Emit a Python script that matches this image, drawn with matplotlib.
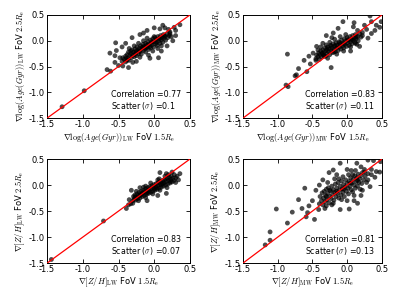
import numpy as np
import matplotlib
matplotlib.use('Agg')
import matplotlib.pyplot as plt

plt.rcParams['mathtext.fontset'] = 'cm'
plt.rcParams['axes.unicode_minus'] = False
plt.rcParams['font.family'] = 'DejaVu Sans'

# ---- data: (FoV 1.5Re, FoV 2.5Re) gradients ----
age_lw = np.array( [
    (-1.29,-1.28),(-0.98,-0.97),(-0.66,-0.56),(-0.61,-0.59),(-0.55,-0.42),(-0.54,-0.04),
    (-0.53,-0.19),(-0.44,-0.49),(-0.31,0.06),(-0.62,-0.24),(-0.55,-0.29),(-0.50,-0.48),
    (-0.36,-0.52),(0.36,0.31),(0.22,0.14),(0.24,0.08),(0.20,0.22),(0.08,0.23),(-0.06,-0.34),
    (0.06,-0.33),(-0.08,-0.28),(0.30,0.20),(0.15,0.25),(-0.45,-0.12),(-0.40,-0.05),
    (-0.20,0.12),(-0.15,0.15),(0.10,-0.20),(0.18,-0.10),(0.26,0.00),(0.30,0.10),
    (-0.48,-0.33),(-0.38,-0.38),(-0.25,-0.40),(0.12,0.30),(0.00,0.25),(-0.10,0.20),(0.28,0.26),
    (-0.45,-0.40),(-0.44,-0.33),(-0.42,-0.36),(-0.40,-0.30),(-0.40,-0.41),(-0.38,-0.27),
    (-0.37,-0.34),(-0.36,-0.22),(-0.35,-0.38),(-0.34,-0.29),(-0.33,-0.25),(-0.32,-0.33),
    (-0.31,-0.18),(-0.30,-0.28),(-0.29,-0.22),(-0.28,-0.31),(-0.27,-0.16),(-0.26,-0.24),
    (-0.25,-0.20),(-0.25,-0.29),(-0.24,-0.12),(-0.23,-0.19),(-0.22,-0.25),(-0.21,-0.15),
    (-0.20,-0.21),(-0.19,-0.10),(-0.18,-0.17),(-0.18,-0.26),(-0.17,-0.13),(-0.16,-0.07),
    (-0.15,-0.19),(-0.14,-0.11),(-0.13,-0.15),(-0.12,-0.05),(-0.12,-0.22),(-0.11,-0.09),
    (-0.10,-0.13),(-0.09,-0.02),(-0.08,-0.17),(-0.07,-0.07),(-0.06,-0.11),(-0.05,0.01),
    (-0.05,-0.14),(-0.04,-0.04),(-0.03,-0.08),(-0.02,0.04),(-0.01,-0.12),(0.00,-0.02),
    (0.01,0.06),(0.02,-0.06),(0.03,0.02),(0.04,-0.09),(0.05,0.08),(0.06,-0.01),(0.07,0.04),
    (0.08,-0.05),(0.09,0.10),(0.10,0.02),(0.11,0.06),(0.12,-0.03),(0.13,0.12),(0.14,0.05),
    (0.15,0.09),(0.16,0.01),(0.18,0.13),(0.19,0.06),(0.21,0.10),(0.22,0.17),(-0.28,-0.10),
    (-0.22,-0.05),(-0.15,0.00),(-0.10,0.05),(-0.35,-0.15),(-0.02,-0.20),(0.05,-0.15),
    (0.10,-0.10),(-0.20,-0.32),(-0.30,-0.42),
    (-0.33,-0.20),(-0.27,-0.26),(-0.21,-0.20),(-0.16,-0.13),(-0.09,-0.08),(-0.03,-0.02),
    (0.03,-0.03),(0.08,0.05),(0.14,0.09),(-0.39,-0.34),(-0.12,-0.14),(0.00,0.08) ] )

age_mw = np.array( [
    (-0.86,-0.26),(-0.88,-0.86),(-0.85,-0.89),(-0.75,-0.68),(-0.73,-0.66),(-0.70,-0.54),
    (-0.58,-0.60),(-0.53,-0.45),(-0.44,-0.11),(-0.49,-0.24),(-0.23,-0.52),(-0.13,0.24),
    (-0.06,0.37),(0.09,0.27),(0.33,0.48),(0.35,0.37),(0.47,0.26),(0.49,0.37),(0.42,0.30),
    (0.18,-0.11),(0.35,0.14),(0.25,0.30),(-0.30,0.10),(-0.55,-0.30),(-0.62,-0.38),
    (-0.45,-0.38),(0.22,0.10),(0.28,0.22),(0.15,0.20),(-0.20,0.15),(0.05,-0.20),
    (0.12,-0.05),(0.30,0.05),(-0.35,-0.05),(0.40,0.20),(0.10,0.35),
    (-0.45,-0.35),(-0.44,-0.28),(-0.42,-0.31),(-0.41,-0.24),(-0.40,-0.36),(-0.39,-0.27),
    (-0.38,-0.20),(-0.37,-0.31),(-0.36,-0.24),(-0.35,-0.18),(-0.34,-0.28),(-0.33,-0.22),
    (-0.32,-0.14),(-0.31,-0.30),(-0.30,-0.19),(-0.29,-0.25),(-0.28,-0.12),(-0.27,-0.21),
    (-0.26,-0.16),(-0.25,-0.27),(-0.24,-0.09),(-0.23,-0.19),(-0.22,-0.14),(-0.21,-0.23),
    (-0.20,-0.06),(-0.19,-0.17),(-0.18,-0.11),(-0.17,-0.21),(-0.16,-0.04),(-0.15,-0.14),
    (-0.14,-0.09),(-0.13,-0.19),(-0.12,-0.02),(-0.11,-0.12),(-0.10,-0.07),(-0.09,-0.16),
    (-0.08,0.01),(-0.07,-0.10),(-0.06,-0.04),(-0.05,-0.14),(-0.04,0.04),(-0.03,-0.07),
    (-0.02,-0.01),(-0.01,-0.11),(0.00,0.06),(0.01,-0.04),(0.02,0.01),(0.03,-0.09),
    (0.04,0.08),(0.05,-0.02),(0.06,0.03),(0.07,-0.06),(0.08,0.10),(0.09,0.01),(0.10,0.05),
    (0.11,-0.03),(0.12,0.12),(0.13,0.04),(0.15,0.08),(0.16,0.00),(0.18,0.14),(0.20,0.07),
    (-0.30,-0.08),(-0.25,-0.03),(-0.18,0.03),(-0.10,0.08),(-0.02,0.12),(-0.38,-0.12),
    (-0.28,-0.34),(-0.15,-0.26),(-0.05,-0.20),(0.05,-0.12),(0.14,-0.07),(-0.42,-0.18),
    (-0.22,0.06),
    (-0.35,-0.25),(-0.29,-0.16),(-0.23,-0.10),(-0.17,-0.09),(-0.11,-0.04),(-0.05,-0.06),
    (0.01,0.02),(0.07,0.02),(0.13,0.08),(-0.33,-0.30),(-0.19,-0.22),(0.22,0.16) ] )

zh_lw = np.array( [
    (-1.44,-1.43),(-0.71,-0.69),(-0.39,-0.45),(-0.36,-0.38),(-0.33,-0.36),(-0.32,-0.10),
    (0.36,0.22),(0.34,0.10),(0.17,0.22),(0.08,0.24),(0.17,-0.16),(0.30,0.05),(0.25,0.25),
    (-0.20,-0.05),(0.05,-0.20),(-0.10,-0.30),(0.28,0.20),(0.32,0.17),
    (-0.30,-0.30),(-0.29,-0.22),(-0.28,-0.27),(-0.27,-0.19),(-0.26,-0.29),(-0.25,-0.24),
    (-0.24,-0.17),(-0.23,-0.26),(-0.22,-0.20),(-0.21,-0.14),(-0.20,-0.25),(-0.19,-0.18),
    (-0.18,-0.12),(-0.17,-0.22),(-0.16,-0.15),(-0.15,-0.10),(-0.14,-0.20),(-0.13,-0.13),
    (-0.12,-0.07),(-0.11,-0.18),(-0.10,-0.11),(-0.09,-0.05),(-0.08,-0.16),(-0.07,-0.09),
    (-0.06,-0.03),(-0.05,-0.14),(-0.04,-0.07),(-0.03,-0.01),(-0.02,-0.12),(-0.01,-0.05),
    (0.00,0.01),(0.01,-0.10),(0.02,-0.03),(0.03,0.03),(0.04,-0.08),(0.05,-0.01),(0.06,0.05),
    (0.07,-0.06),(0.08,0.01),(0.09,0.07),(0.10,-0.04),(0.11,0.03),(0.12,0.09),(0.13,-0.02),
    (0.14,0.05),(0.15,0.11),(0.16,0.00),(0.17,0.07),(0.18,0.13),(0.19,0.02),(0.20,0.09),
    (0.21,0.15),(0.22,0.04),(0.23,0.11),(0.24,0.17),(0.25,0.06),(0.26,0.13),(0.28,0.09),
    (0.30,0.14),(-0.22,-0.30),(-0.12,-0.24),(-0.02,-0.17),(0.08,-0.10),(0.18,-0.05),
    (-0.25,-0.12),(-0.15,-0.04),(-0.05,0.04),(0.05,0.10),(0.15,0.17),(-0.35,-0.28),
    (0.00,-0.08),(0.10,0.00),(-0.10,-0.15),(-0.20,-0.20),
    (-0.27,-0.23),(-0.17,-0.17),(-0.07,-0.12),(0.03,-0.05),(0.13,0.03),(0.23,0.07),
    (-0.12,-0.02),(0.07,0.12),(0.20,0.20),(-0.30,-0.35) ] )

zh_mw = np.array( [
    (-1.18,-1.15),(-1.11,-1.06),(-1.11,-0.90),(-1.02,-0.46),(-0.86,-0.73),(-0.79,-0.52),
    (-0.70,-0.28),(-0.61,-0.06),(-0.59,-0.61),(-0.57,-0.53),(-0.47,-0.66),(-0.41,-0.47),
    (-0.10,-0.47),(0.03,-0.46),(-0.26,0.24),(-0.20,0.29),(-0.10,0.42),(-0.06,0.16),
    (0.06,0.28),(0.14,0.42),(0.30,0.48),(0.38,0.47),(0.48,0.45),(0.42,0.26),(0.47,0.25),
    (0.33,-0.03),(0.25,0.30),(0.20,0.35),(-0.35,0.10),(-0.45,-0.10),(-0.50,-0.30),
    (-0.30,-0.40),(-0.20,-0.35),(0.10,-0.30),(0.20,-0.20),(0.30,0.10),(0.40,0.15),
    (-0.40,0.00),(0.00,0.30),(-0.15,0.20),(0.35,0.30),(0.15,-0.35),(-0.55,-0.40),(-0.65,-0.45),
    (-0.40,-0.36),(-0.39,-0.22),(-0.37,-0.30),(-0.36,-0.15),(-0.35,-0.38),(-0.34,-0.25),
    (-0.33,-0.12),(-0.32,-0.32),(-0.31,-0.20),(-0.30,-0.08),(-0.29,-0.28),(-0.28,-0.16),
    (-0.27,-0.05),(-0.26,-0.34),(-0.25,-0.22),(-0.24,-0.11),(-0.23,-0.26),(-0.22,-0.02),
    (-0.21,-0.18),(-0.20,-0.09),(-0.19,-0.29),(-0.18,-0.14),(-0.17,0.02),(-0.16,-0.22),
    (-0.15,-0.06),(-0.14,-0.16),(-0.13,0.05),(-0.12,-0.25),(-0.11,-0.10),(-0.10,-0.02),
    (-0.09,-0.19),(-0.08,0.08),(-0.07,-0.07),(-0.06,-0.14),(-0.05,0.01),(-0.04,-0.22),
    (-0.03,-0.04),(-0.02,0.10),(-0.01,-0.12),(0.00,0.03),(0.01,-0.06),(0.02,-0.17),
    (0.03,0.07),(0.04,-0.02),(0.05,0.14),(0.06,-0.09),(0.07,0.04),(0.08,-0.13),(0.09,0.11),
    (0.10,0.00),(0.11,0.18),(0.12,-0.06),(0.13,0.07),(0.14,0.14),(0.15,-0.02),(0.16,0.21),
    (0.17,0.05),(0.18,0.12),(0.19,-0.08),(0.20,0.18),(0.21,0.03),(0.22,0.24),(0.24,0.10),
    (0.26,0.17),(0.28,0.05),(0.30,0.22),(-0.28,0.05),(-0.18,0.12),(-0.08,-0.28),(0.02,0.20),
    (0.12,0.28),(-0.32,-0.45),(-0.22,-0.38),(0.00,-0.30),(0.10,-0.20),(0.22,-0.10),
    (-0.25,-0.10),(-0.15,-0.12),(-0.05,-0.08),(0.05,0.04),(0.15,0.09),(-0.30,-0.22),
    (-0.12,0.12),(0.08,0.20),(0.25,0.25),(0.35,0.20) ] )

quantities = [ r'\log(Age(Gyr))_{\rm LW}', r'\log(Age(Gyr))_{\rm MW}',
               r'[Z/H]_{\rm LW}', r'[Z/H]_{\rm MW}' ]
correlations = [ '0.77', '0.83', '0.83', '0.81' ]
scatters = [ '0.1', '0.11', '0.07', '0.13' ]
datasets = [ age_lw, age_mw, zh_lw, zh_mw ]
ticks = [ -1.5, -1.0, -0.5, 0.0, 0.5 ]

fig = plt.figure( figsize = ( 3.99, 2.99 ), dpi = 100 )
rects = [ [ 0.118, 0.605, 0.358, 0.345 ], [ 0.609, 0.605, 0.348, 0.345 ],
          [ 0.118, 0.120, 0.358, 0.348 ], [ 0.609, 0.120, 0.348, 0.348 ] ]

for rect, data, q, c, s in zip( rects, datasets, quantities, correlations, scatters ) :
    ax = fig.add_axes( rect )
    ax.scatter( data[:,0], data[:,1], s = 12, color = 'k', alpha = 0.7,
                edgecolors = 'none', zorder = 2 )
    ax.plot( [ -1.5, 0.5 ], [ -1.5, 0.5 ], color = 'red', lw = 0.9, zorder = 3 )
    ax.set_xlim( -1.5, 0.5 )
    ax.set_ylim( -1.5, 0.5 )
    ax.set_xticks( ticks )
    ax.set_yticks( ticks )
    ax.tick_params( direction = 'in', top = True, right = True, length = 3,
                    width = 0.6, labelsize = 6, pad = 1.5 )
    for sp in ax.spines.values() :
        sp.set_linewidth( 0.7 )
    ax.set_xlabel( r'$\nabla %s$ FoV $1.5R_{\rm e}$' % q, fontsize = 6, labelpad = 1 )
    ax.set_ylabel( r'$\nabla %s$ FoV $2.5R_{\rm e}$' % q, fontsize = 6, labelpad = 1 )
    ax.text( 0.45, 0.2, 'Correlation =' + c, transform = ax.transAxes, fontsize = 5.7 )
    ax.text( 0.45, 0.09, r'Scatter ($\sigma$) =' + s, transform = ax.transAxes, fontsize = 5.7 )

fig.savefig( 'out.png', dpi = 100 )
